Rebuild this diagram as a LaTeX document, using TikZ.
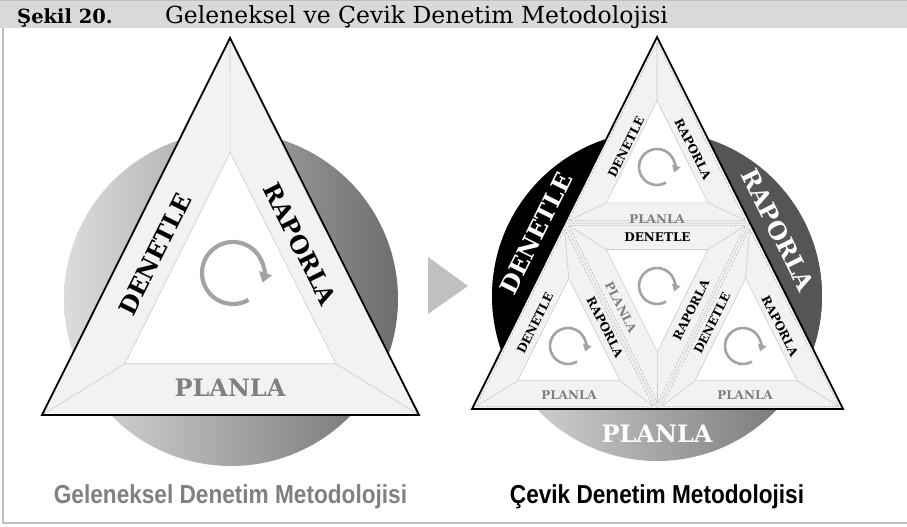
\documentclass[tikz,border=0pt]{standalone}
\usepackage{fontspec}
\setmainfont{DejaVu Serif}
\newfontfamily\labelfont{DejaVu Serif}
\newfontfamily\captionfont{Liberation Sans}[FakeStretch=0.87]
\usetikzlibrary{calc,arrows.meta}

\definecolor{headgray}{HTML}{D9D9D9}
\definecolor{framegray}{HTML}{BFBFBF}
\definecolor{bandgray}{HTML}{F2F2F2}
\definecolor{edgegray}{HTML}{CCCCCC}
\definecolor{dashgray}{HTML}{B4B4B4}
\definecolor{planlagray}{HTML}{808080}
\definecolor{arrowgray}{HTML}{A3A3A3}
\definecolor{segdark}{HTML}{555555}
\definecolor{circlelight}{HTML}{DCDCDC}
\definecolor{circledark}{HTML}{6E6E6E}
\definecolor{chevron}{HTML}{C0C0C0}

\tikzset{
  biglab/.style={font=\labelfont\bfseries\fontsize{24}{24}\selectfont, inner sep=0pt},
  smalllab/.style={font=\labelfont\bfseries\fontsize{12}{12}\selectfont, inner sep=0pt},
  upleft/.style={rotate=63.43},
  downright/.style={rotate=-63.43},
  bevelline/.style={draw=edgegray, line width=0.6pt},
  innerface/.style={fill=white, draw=edgegray, line width=0.6pt},
  dashedge/.style={draw=dashgray, line width=0.5pt, dash pattern=on 2.5pt off 1.5pt},
  outeredge/.style={draw=black, line width=1.8pt, line join=miter},
  capt/.style={font=\captionfont\bfseries\fontsize{26}{26}\selectfont, inner sep=0pt},
}

% incentre, scaling centre, inner corners and inset outline corners of a bevelled triangle
% #1 name, #2 apex, #3 #4 base corners, #5 inner scale, #6 shift of the scaling centre, #7 shift target
\newcommand\panelpoints[7]{%
  \coordinate (#1i) at (barycentric cs:#2=1,#3=1.118,#4=1.118);
  \coordinate (#1c) at ($(#1i)!#6!(#7)$);
  \coordinate (#1a) at ($(#1c)!#5!(#2)$);
  \coordinate (#1b) at ($(#1c)!#5!(#3)$);
  \coordinate (#1d) at ($(#1c)!#5!(#4)$);
  \coordinate (#1p) at ($(#1i)!0.955!(#2)$);
  \coordinate (#1q) at ($(#1i)!0.955!(#3)$);
  \coordinate (#1r) at ($(#1i)!0.955!(#4)$);
}
% bevel lines from three outer corners and the white inner face
\newcommand\panelface[4]{%
  \draw[bevelline] (#2) -- (#1a) (#3) -- (#1b) (#4) -- (#1d);
  \draw[innerface] (#1a) -- (#1b) -- (#1d) -- cycle;
}
% clockwise cycle arrow: centre, radius, line width, tip length, tip width
\newcommand\cyclearrow[5]{%
  \draw[arrowgray, line width=#3, -{Triangle[length=#4, width=#5]}]
    (#1) ++(300:#2) arc[start angle=300, end angle=-18, radius=#2];
}

\begin{document}
\begin{tikzpicture}[x=1pt, y=-1pt]
\useasboundingbox (0,0) rectangle (907,527);

% caption band and frame
\fill[headgray] (0,0) rectangle (907,28);
\draw[framegray, line width=1pt] (0,0.5) -- (907,0.5);
\draw[framegray, line width=2pt] (2.5,28) -- (2.5,523) -- (907,523);
\node[anchor=base west, inner sep=0pt, font=\bfseries\fontsize{19.5}{19.5}\selectfont] (fignum) at (17,23.5) {Şekil 20.};
\node[anchor=base west, inner sep=0pt, font=\fontsize{23.5}{23.5}\selectfont] (figtitle) at (165,23.5) {Geleneksel ve Çevik Denetim Metodolojisi};

% ---------------- traditional cycle ----------------
\coordinate (Lo) at (231,299);
\shade[left color=circlelight, right color=circledark] (Lo) circle[radius=167pt];

\coordinate (LA) at (230,38);
\coordinate (LB) at (42,415);
\coordinate (LC) at (419,415);
\panelpoints{L}{LA}{LB}{LC}{0.56}{0}{LA}
\fill[bandgray] (LA) -- (LB) -- (LC) -- cycle;
\panelface{L}{LA}{LB}{LC}
\draw[outeredge] (LA) -- (LB) -- (LC) -- cycle;

\node[biglab, upleft] (lden) at (155,254) {DENETLE};
\node[biglab, downright] (lrap) at (300,244) {RAPORLA};
\node[biglab, text=planlagray] (lpla) at (230,388) {PLANLA};
\coordinate (Larr) at (233,273);
\cyclearrow{Larr}{31pt}{4.2pt}{10pt}{13pt}

% arrow between the two methods
\fill[chevron] (428,257) -- (468,286) -- (428,314) -- cycle;

% ---------------- agile cycle ----------------
\coordinate (Ro) at (657,296);
\shade[left color=circlelight, right color=circledark] (Ro) circle[radius=165pt];

\coordinate (RA) at (657,37);
\coordinate (RB) at (472,409);
\coordinate (RC) at (843,409);
\coordinate (RL) at (564.5,223);
\coordinate (RR) at (749.5,223);
\coordinate (RM) at (657.5,409);
\coordinate (RI) at (barycentric cs:RA=1,RB=1.118,RC=1.118);

% segments of the ring outside the triangle
\begin{scope}
  \clip ($(RA)!-0.5!(RB)$) -- ($(RB)!-0.5!(RA)$) -- (300,600) -- (300,-160) -- cycle;
  \fill[black] (Ro) circle[radius=165pt];
\end{scope}
\begin{scope}
  \clip ($(RA)!-0.5!(RC)$) -- ($(RC)!-0.5!(RA)$) -- (1000,600) -- (1000,-160) -- cycle;
  \fill[segdark] (Ro) circle[radius=165pt];
\end{scope}

\fill[bandgray] (RA) -- (RB) -- (RC) -- cycle;
\draw[bevelline] (RL) -- (RR) -- (RM) -- cycle;

\panelpoints{T}{RA}{RL}{RR}{0.55}{0.1}{RI}
\panelpoints{P}{RL}{RB}{RM}{0.55}{0.1}{RI}
\panelpoints{Q}{RR}{RM}{RC}{0.55}{0.1}{RI}
\panelpoints{M}{RM}{RL}{RR}{0.55}{0.1}{RI}
\foreach \n in {T,P,Q,M}{
  \draw[dashedge] (\n p) -- (\n q) -- (\n r) -- cycle;
  \panelface{\n}{\n p}{\n q}{\n r}
}
\draw[outeredge] (RA) -- (RB) -- (RC) -- cycle;

% ring labels
\node[biglab, upleft, text=white] (rden) at (536,233) {DENETLE};
\node[biglab, downright, text=white] (rrap) at (778,230) {RAPORLA};
\node[biglab, text=white] (rpla) at (657,434) {PLANLA};

% top panel
\node[smalllab, upleft] (tden) at (626,147) {DENETLE};
\node[smalllab, downright] (trap) at (693,149) {RAPORLA};
\node[smalllab, text=planlagray] (tpla) at (657,219) {PLANLA};
% middle panel
\node[smalllab] (mden) at (657.5,237) {DENETLE};
\node[smalllab, downright, text=planlagray] (mpla) at (621,307) {PLANLA};
\node[smalllab, upleft] (mrap) at (691,310) {RAPORLA};
% lower left panel
\node[smalllab, upleft] (pden) at (535,323) {DENETLE};
\node[smalllab, downright] (prap) at (605,327) {RAPORLA};
\node[smalllab, text=planlagray] (ppla) at (569,395) {PLANLA};
% lower right panel
\node[smalllab, upleft] (qden) at (712,323) {DENETLE};
\node[smalllab, downright] (qrap) at (780,326) {RAPORLA};
\node[smalllab, text=planlagray] (qpla) at (745,395) {PLANLA};

\coordinate (Tarr) at (657,167);
\coordinate (Marr) at (657,286);
\coordinate (Parr) at (568,346);
\coordinate (Qarr) at (743,346);
\foreach \c in {Tarr,Marr,Parr,Qarr}{
  \cyclearrow{\c}{18pt}{2.6pt}{7pt}{8.5pt}
}

% captions
\node[capt, text=planlagray] (cgel) at (230.5,497) {Geleneksel Denetim Metodolojisi};
\node[capt] (ccev) at (657,497) {Çevik Denetim Metodolojisi};
\end{tikzpicture}
\end{document}
